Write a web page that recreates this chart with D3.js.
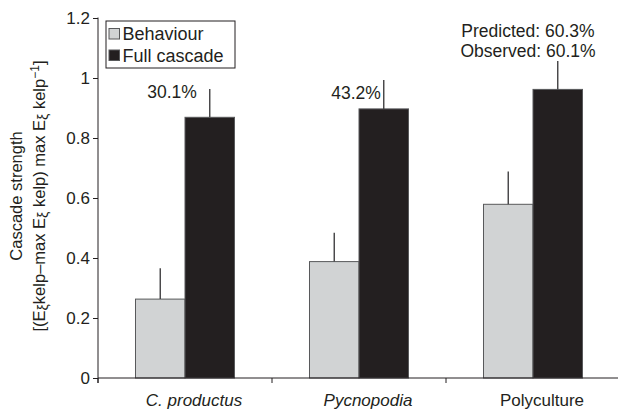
<!DOCTYPE html>
<html>
<head>
<meta charset="utf-8">
<script src="https://cdn.jsdelivr.net/npm/d3@7"></script>
<style>
  body { margin: 0; background: #fff; }
  svg { display: block; font-family: "Liberation Sans", Arial, Helvetica, sans-serif; }
  .axis path, .axis line { stroke: #231f20; }
  .axis text { font-size: 17px; fill: #231f20; }
  .note { font-size: 17.5px; fill: #231f20; text-anchor: middle; }
</style>
</head>
<body>
<svg width="618" height="413"></svg>
<script>
const categories = ['C. productus', 'Pycnopodia', 'Polyculture'];
const italic = [true, true, false];
const series = ['Behaviour', 'Full cascade'];
const behaviour = [0.263, 0.388, 0.579];
const behaviourErr = [0.103, 0.096, 0.109];
const fullCascade = [0.869, 0.897, 0.962];
const fullErr = [0.094, 0.096, 0.095];
const yTicks = [0, 0.2, 0.4, 0.6, 0.8, 1, 1.2];
const notes = [['30.1%'], ['43.2%'], ['Predicted: 60.3%', 'Observed: 60.1%']];

const colors = { 'Behaviour': '#d1d3d4', 'Full cascade': '#231f20' };

const svg = d3.select('svg');
const margin = { left: 98, right: 620, top: 18, bottom: 378 };

const x0 = d3.scaleBand()
  .domain(categories)
  .range([margin.left, margin.right])
  .paddingInner(0.431)
  .paddingOuter(0.2155);

const x1 = d3.scaleBand()
  .domain(series)
  .range([0, x0.bandwidth()]);

const y = d3.scaleLinear()
  .domain([0, 1.2])
  .range([margin.bottom, margin.top]);

const rows = categories.map((c, i) => ({
  cat: c,
  bars: [
    { key: 'Behaviour', value: behaviour[i], err: behaviourErr[i] },
    { key: 'Full cascade', value: fullCascade[i], err: fullErr[i] }
  ]
}));

// bars
const groups = svg.selectAll('.grp')
  .data(rows)
  .enter()
  .append('g')
  .attr('class', 'grp')
  .attr('transform', (d) => `translate(${x0(d.cat)},0)`);

groups.selectAll('rect')
  .data((d) => d.bars)
  .enter()
  .append('rect')
  .attr('x', (d) => x1(d.key))
  .attr('width', x1.bandwidth())
  .attr('y', (d) => y(d.value))
  .attr('height', (d) => y(0) - y(d.value))
  .attr('fill', (d) => colors[d.key])
  .attr('stroke', '#58595b')
  .attr('stroke-width', 1);

// upper error bars only
groups.selectAll('.err')
  .data((d) => d.bars)
  .enter()
  .append('line')
  .attr('class', 'err')
  .attr('x1', (d) => x1(d.key) + x1.bandwidth() / 2)
  .attr('x2', (d) => x1(d.key) + x1.bandwidth() / 2)
  .attr('y1', (d) => y(d.value))
  .attr('y2', (d) => y(d.value + d.err))
  .attr('stroke', '#414042')
  .attr('stroke-width', 1.4);

// y axis
svg.append('g')
  .attr('class', 'axis')
  .attr('transform', `translate(${margin.left},0)`)
  .call(d3.axisLeft(y)
    .tickValues(yTicks)
    .tickSize(5)
    .tickPadding(3)
    .tickSizeOuter(0)
    .tickFormat((d) => String(+d.toFixed(1))))
  .call((g) => g.select('.domain').attr('d', `M0,${y(1.2) - 0.5}V${y(0) + 5}`));

// x axis
const xAxis = svg.append('g')
  .attr('class', 'axis')
  .attr('transform', `translate(0,${y(0)})`);

xAxis.append('path')
  .attr('d', `M${margin.left},0H${margin.right}`)
  .attr('stroke', '#231f20')
  .attr('fill', 'none');

xAxis.selectAll('.bound')
  .data(d3.range(categories.length + 1))
  .enter()
  .append('line')
  .attr('x1', (i) => margin.left + i * x0.step())
  .attr('x2', (i) => margin.left + i * x0.step())
  .attr('y1', 0)
  .attr('y2', 5);

xAxis.selectAll('.cat')
  .data(categories)
  .enter()
  .append('text')
  .attr('x', (d) => x0(d) + x0.bandwidth() / 2 + 9)
  .attr('y', 28)
  .attr('text-anchor', 'middle')
  .style('font-style', (d, i) => italic[i] ? 'italic' : 'normal')
  .text((d) => d);

// annotations
const noteX = [x0(categories[0]) + x0.bandwidth() / 2 - 13,
  x0(categories[1]) + x0.bandwidth() / 2 - 3,
  x0(categories[2]) + x0.bandwidth() / 2 - 5];
const noteY = [y(0.933), y(0.93), y(1.137)];

notes.forEach((lines, i) => {
  lines.forEach((t, j) => {
    svg.append('text')
      .attr('class', 'note')
      .attr('x', noteX[i])
      .attr('y', noteY[i] + j * 20)
      .text(t);
  });
});

// legend
const legend = svg.append('g').attr('transform', 'translate(106,21)');
legend.append('rect')
  .attr('width', 129)
  .attr('height', 47)
  .attr('fill', '#fff')
  .attr('stroke', '#231f20');

series.forEach((s, i) => {
  legend.append('rect')
    .attr('x', 3)
    .attr('y', 7.5 + i * 21.5)
    .attr('width', 10.5)
    .attr('height', 10.5)
    .attr('fill', colors[s])
    .attr('stroke', '#58595b');
  legend.append('text')
    .attr('x', 16.5)
    .attr('y', 18.5 + i * 22.5)
    .style('font-size', '18px')
    .attr('fill', '#231f20')
    .text(s);
});

// y label
const ylab = svg.append('text')
  .attr('transform', `translate(22,${(y(0) + y(1.2)) / 2 - 2}) rotate(-90)`)
  .attr('text-anchor', 'middle')
  .style('font-size', '16.5px')
  .attr('fill', '#231f20');

ylab.append('tspan').attr('x', 0).attr('dy', 0).text('Cascade strength');

const line2 = ylab.append('tspan').attr('x', 0).attr('dy', 23);
const parts = [
  ['[(E', 0], ['ξ', -1], ['kelp\u2013max E', 0], ['ξ', -1], [' kelp) max E', 0], ['ξ', -1], [' kelp', 0], ['\u22121', 1], [']', 0]
];
let shift = 0;
parts.forEach(([t, s]) => {
  const ts = line2.append('tspan').text(t);
  const target = s === -1 ? 2.5 : s === 1 ? -6 : 0;
  if (target !== shift) ts.attr('dy', target - shift);
  if (s === -1) ts.style('font-size', '14px');
  if (s === 1) ts.style('font-size', '12px');
  shift = target;
});
</script>
</body>
</html>
